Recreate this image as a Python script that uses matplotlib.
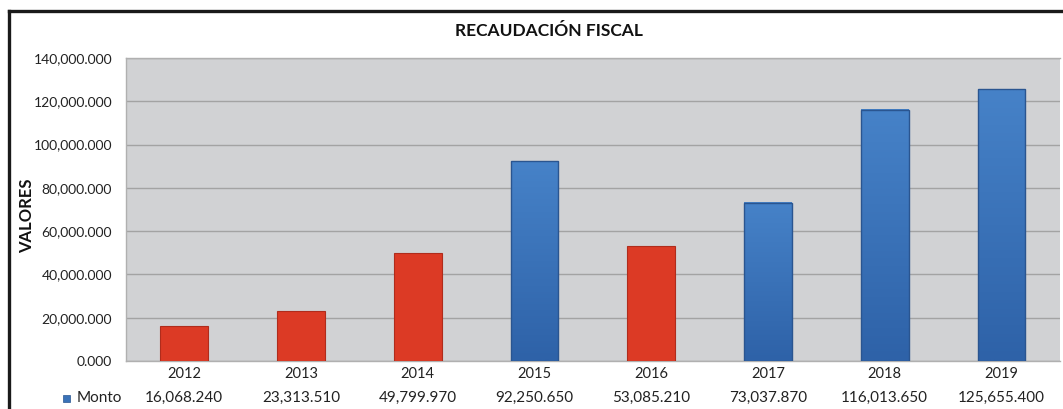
import numpy as np
import matplotlib.pyplot as plt
from matplotlib.lines import Line2D
from matplotlib.patches import Rectangle

years = ['2012', '2013', '2014', '2015', '2016', '2017', '2018', '2019']
monto = [16068.240, 23313.510, 49799.970, 92250.650, 53085.210, 73037.870, 116013.650, 125655.400]
bar_colors = ['red', 'red', 'red', 'blue', 'red', 'blue', 'blue', 'blue']
yticks = [0, 20000, 40000, 60000, 80000, 100000, 120000, 140000]

plt.rcParams['font.family'] = ['Lato', 'DejaVu Sans']

fig = plt.figure(figsize=(10.63, 4.09), dpi=100)
ax = fig.add_axes([0.1185, 0.1174, 0.997 - 0.1185, 0.858 - 0.1174])
ax.set_facecolor('#d1d2d4')

x = np.arange(len(years))
w = 0.41
grad = np.linspace(0, 1, 64).reshape(-1, 1)
for xi, v, c in zip(x, monto, bar_colors):
    if c == 'blue':
        # slight vertical gradient like the original
        img = np.zeros((64, 1, 3))
        top = np.array([0x46, 0x82, 0xc8]) / 255
        bot = np.array([0x2e, 0x62, 0xa8]) / 255
        img[:, 0, :] = bot + (top - bot) * grad
        ax.imshow(img, extent=[xi - w / 2, xi + w / 2, 0, v], origin='lower',
                  aspect='auto', zorder=3, interpolation='bilinear')
        ax.add_patch(Rectangle((xi - w / 2, 0), w, v, fill=False,
                               edgecolor='#2a5590', lw=1.0, zorder=4))
    else:
        ax.bar(xi, v, width=w, color='#dc3a25', edgecolor='#b02c1c', lw=0.8, zorder=3)

ax.set_xlim(-0.5, len(years) - 0.5)
ax.set_ylim(0, 140000)
ax.set_yticks(yticks)
ax.set_yticklabels(['{:,.3f}'.format(t) for t in yticks], fontsize=10, color='#222222')
ax.yaxis.grid(True, color='#a3a3a3', lw=1.0, zorder=1)
ax.set_xticks(x)
ax.set_xticklabels(years, fontsize=10.5, color='#222222')
ax.tick_params(axis='both', length=0)
ax.tick_params(axis='y', pad=10)
ax.tick_params(axis='x', pad=4)
for s in ax.spines.values():
    s.set_color('#b0b0b0')
    s.set_linewidth(1.0)
ax.spines['right'].set_visible(False)

ax.set_ylabel('VALORES', fontsize=12, fontweight='bold', color='#111111')
ax.yaxis.set_label_coords(-0.097, 0.479)

fig.text(0.516, 0.924, 'RECAUDACIÓN FISCAL', fontsize=12.5, fontweight='bold',
         ha='center', va='center', color='#111111')

# data table row
for xi, v in zip(x, monto):
    fx = ax.transData.transform((xi, 0))
    fx = fig.transFigure.inverted().transform(fx)[0]
    fig.text(fx, 0.027, '{:,.3f}'.format(v), fontsize=11, ha='center', va='center',
             color='#222222')
fig.add_artist(Rectangle((0.0595, 0.0165), 0.0068, 0.018, transform=fig.transFigure,
                         facecolor='#3a72b8', edgecolor='#2a5590', lw=0.5))
fig.text(0.0725, 0.027, 'Monto', fontsize=11, ha='left', va='center', color='#222222')

# outer frame
fig.add_artist(Line2D([0.0085, 1.0], [0.973, 0.973], color='#1a1a1a', lw=2.4,
                      transform=fig.transFigure))
fig.add_artist(Line2D([0.0085, 0.0085], [0.0, 0.973], color='#1a1a1a', lw=2.4,
                      transform=fig.transFigure))

fig.savefig('out.png', dpi=100)
